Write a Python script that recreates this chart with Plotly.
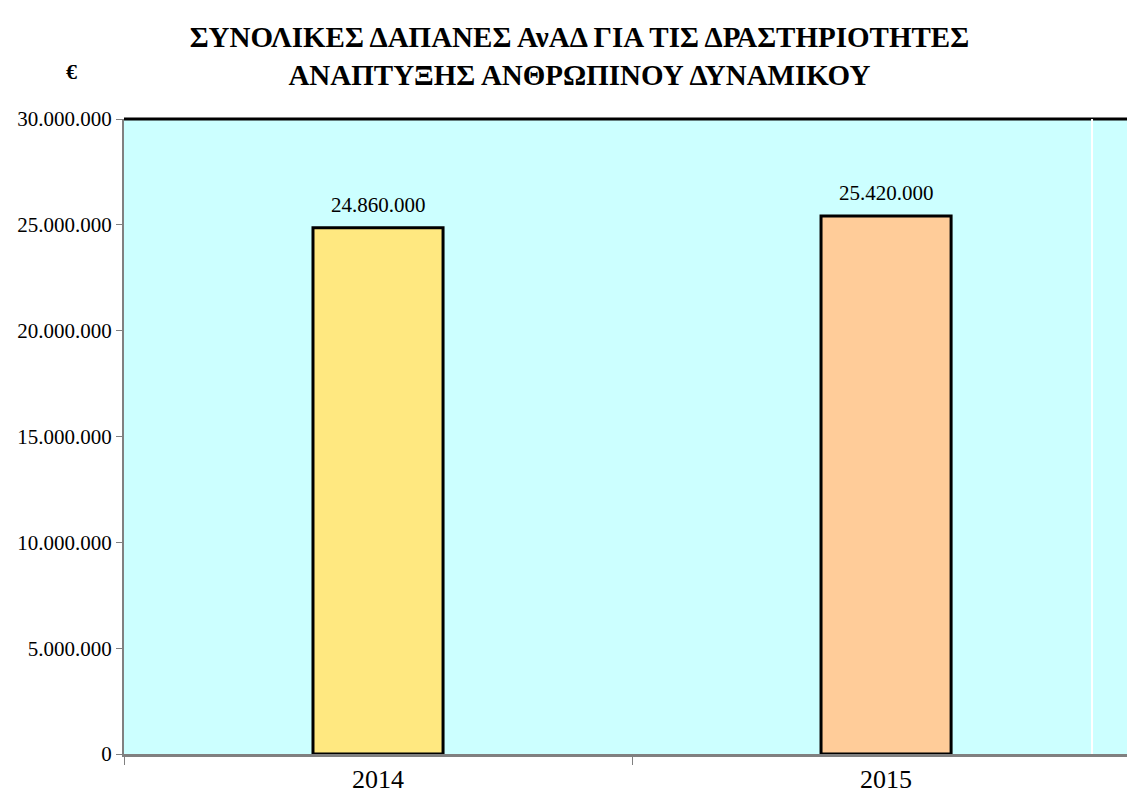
import plotly.graph_objects as go

years = ["2014", "2015"]
spending = [24860000, 25420000]
bar_colors = ["#FFE880", "#FFCC99"]
tick_values = [0, 5000000, 10000000, 15000000, 20000000, 25000000, 30000000]

title_text = ("<b>ΣΥΝΟΛΙΚΕΣ ΔΑΠΑΝΕΣ ΑνΑΔ ΓΙΑ ΤΙΣ ΔΡΑΣΤΗΡΙΟΤΗΤΕΣ<br>"
              "ΑΝΑΠΤΥΞΗΣ ΑΝΘΡΩΠΙΝΟΥ ΔΥΝΑΜΙΚΟΥ</b>")

fig = go.Figure()

fig.add_trace(
    go.Bar(
        x=years,
        y=spending,
        width=0.256,
        marker=dict(color=bar_colors, line=dict(color="black", width=3)),
        hoverinfo="skip",
    )
)

# value labels above the bars (category index used as x position)
for i, val in enumerate(spending):
    fig.add_annotation(
        x=i, y=val, text=f"{val:,}".replace(",", "."),
        showarrow=False, yanchor="bottom", yshift=9,
        font=dict(family="Liberation Serif", size=21, color="black"),
    )

fig.update_layout(
    width=1127,
    height=794,
    margin=dict(l=116, r=0, t=111, b=48),
    separators=",.",
    paper_bgcolor="white",
    plot_bgcolor="#CCFFFF",
    showlegend=False,
    font=dict(family="Liberation Serif", color="black"),
    title=dict(
        text=title_text,
        x=0.507,
        xanchor="center",
        y=0.951,
        yanchor="middle",
        font=dict(family="Liberation Serif", size=29, color="black"),
    ),
)

fig.update_xaxes(
    type="category",
    range=[-0.5, 1.49],
    showgrid=False,
    showline=True,
    linecolor="#808080",
    linewidth=3,
    ticks="outside",
    tickson="boundaries",
    ticklen=8,
    tickcolor="#808080",
    tickwidth=1,
    tickfont=dict(family="Liberation Serif", size=26, color="black"),
)

fig.update_yaxes(
    range=[0, 30000000],
    tickvals=tick_values,
    tickformat=",d",
    showgrid=False,
    zeroline=False,
    showline=True,
    linecolor="#808080",
    linewidth=2,
    ticks="outside",
    ticklen=6,
    tickcolor="#808080",
    tickfont=dict(family="Liberation Serif", size=21, color="black"),
)

# black frame line on top of the plot area
fig.add_shape(type="line", xref="paper", yref="paper", x0=0, x1=1, y0=1, y1=1,
              line=dict(color="black", width=3))
# thin white divider near right edge
fig.add_shape(type="line", xref="paper", yref="paper", x0=0.9575, x1=0.9575, y0=0, y1=1,
              line=dict(color="white", width=2))

# euro sign as y-axis unit
fig.add_annotation(text="<b>€</b>", xref="paper", yref="paper", x=-0.0593, y=1.097,
                   showarrow=False, font=dict(family="Liberation Serif", size=22, color="black"))

fig.write_html("out.html")
